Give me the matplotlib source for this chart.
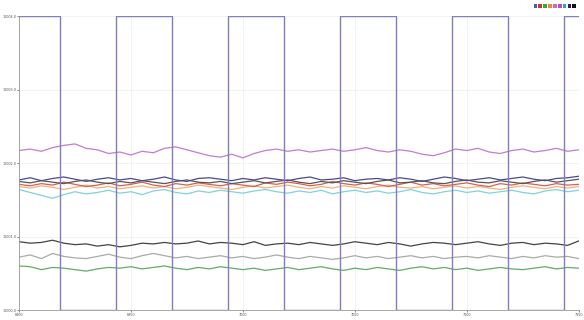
import numpy as np
import matplotlib.pyplot as plt
from matplotlib.patches import Patch

# x positions of the sampled points
x = list(range(6900, 7151, 5))

# square wave (step edges)
sq_x = [6900, 6918.5, 6943.5, 6968.5, 6993.5, 7018.5, 7043.5, 7068.5, 7093.5, 7118.5, 7143.5, 7150]
sq_y = [10004.0, 10000.0, 10004.0, 10000.0, 10004.0, 10000.0, 10004.0, 10000.0, 10004.0, 10000.0, 10004.0, 10004.0]

purple = [10002.17, 10002.19, 10002.16, 10002.21, 10002.24, 10002.26, 10002.20, 10002.18, 10002.13, 10002.15,
          10002.11, 10002.16, 10002.14, 10002.20, 10002.22, 10002.18, 10002.14, 10002.10, 10002.08, 10002.12,
          10002.07, 10002.13, 10002.17, 10002.19, 10002.16, 10002.18, 10002.15, 10002.17, 10002.19, 10002.16,
          10002.18, 10002.21, 10002.17, 10002.15, 10002.18, 10002.16, 10002.12, 10002.10, 10002.14, 10002.19,
          10002.17, 10002.20, 10002.15, 10002.13, 10002.17, 10002.19, 10002.15, 10002.17, 10002.20, 10002.16,
          10002.18]
navy = [10001.77, 10001.80, 10001.76, 10001.79, 10001.81, 10001.78, 10001.75, 10001.78, 10001.80, 10001.77,
        10001.79, 10001.76, 10001.78, 10001.81, 10001.77, 10001.75, 10001.79, 10001.80, 10001.78, 10001.76,
        10001.79, 10001.77, 10001.80, 10001.78, 10001.76, 10001.79, 10001.81, 10001.77, 10001.78, 10001.80,
        10001.76, 10001.78, 10001.79, 10001.77, 10001.80, 10001.78, 10001.75, 10001.78, 10001.81, 10001.79,
        10001.76, 10001.78, 10001.80, 10001.77, 10001.79, 10001.81, 10001.78, 10001.76, 10001.79, 10001.80,
        10001.82]
darkgray = [10001.75, 10001.73, 10001.76, 10001.74, 10001.72, 10001.75, 10001.77, 10001.74, 10001.72, 10001.75,
            10001.73, 10001.76, 10001.74, 10001.72, 10001.75, 10001.77, 10001.74, 10001.73, 10001.75, 10001.72,
            10001.74, 10001.76, 10001.73, 10001.75, 10001.77, 10001.74, 10001.72, 10001.75, 10001.73, 10001.76,
            10001.74, 10001.72, 10001.75, 10001.77, 10001.73, 10001.74, 10001.76, 10001.73, 10001.72, 10001.75,
            10001.77, 10001.74, 10001.73, 10001.76, 10001.74, 10001.72, 10001.75, 10001.77, 10001.74, 10001.76,
            10001.78]
red = [10001.71, 10001.69, 10001.72, 10001.70, 10001.74, 10001.71, 10001.68, 10001.70, 10001.73, 10001.69,
       10001.71, 10001.74, 10001.70, 10001.68, 10001.72, 10001.70, 10001.73, 10001.71, 10001.69, 10001.72,
       10001.70, 10001.68, 10001.73, 10001.71, 10001.74, 10001.72, 10001.69, 10001.71, 10001.75, 10001.72,
       10001.70, 10001.73, 10001.71, 10001.68, 10001.71, 10001.74, 10001.70, 10001.72, 10001.69, 10001.71,
       10001.73, 10001.70, 10001.68, 10001.72, 10001.70, 10001.73, 10001.71, 10001.69, 10001.72, 10001.70,
       10001.71]
orange = [10001.68, 10001.66, 10001.69, 10001.67, 10001.64, 10001.67, 10001.70, 10001.66, 10001.68, 10001.65,
          10001.67, 10001.69, 10001.66, 10001.68, 10001.65, 10001.67, 10001.70, 10001.68, 10001.66, 10001.64,
          10001.67, 10001.69, 10001.66, 10001.68, 10001.70, 10001.67, 10001.65, 10001.68, 10001.66, 10001.69,
          10001.67, 10001.65, 10001.68, 10001.70, 10001.67, 10001.66, 10001.68, 10001.65, 10001.67, 10001.69,
          10001.66, 10001.68, 10001.66, 10001.64, 10001.67, 10001.69, 10001.67, 10001.65, 10001.68, 10001.66,
          10001.68]
cyan = [10001.64, 10001.60, 10001.56, 10001.52, 10001.57, 10001.61, 10001.58, 10001.60, 10001.63, 10001.59,
        10001.61, 10001.57, 10001.62, 10001.64, 10001.60, 10001.58, 10001.62, 10001.60, 10001.63, 10001.61,
        10001.59, 10001.62, 10001.64, 10001.61, 10001.59, 10001.62, 10001.60, 10001.63, 10001.58, 10001.61,
        10001.63, 10001.60, 10001.62, 10001.59, 10001.61, 10001.64, 10001.60, 10001.58, 10001.61, 10001.63,
        10001.60, 10001.62, 10001.59, 10001.61, 10001.63, 10001.60, 10001.58, 10001.62, 10001.64, 10001.61,
        10001.63]
black = [10000.93, 10000.91, 10000.92, 10000.95, 10000.91, 10000.89, 10000.90, 10000.87, 10000.89, 10000.86,
         10000.88, 10000.91, 10000.90, 10000.92, 10000.90, 10000.91, 10000.94, 10000.90, 10000.92, 10000.91,
         10000.89, 10000.93, 10000.88, 10000.90, 10000.91, 10000.89, 10000.92, 10000.90, 10000.88, 10000.90,
         10000.93, 10000.91, 10000.89, 10000.92, 10000.90, 10000.87, 10000.90, 10000.92, 10000.91, 10000.89,
         10000.91, 10000.93, 10000.90, 10000.88, 10000.91, 10000.92, 10000.89, 10000.91, 10000.90, 10000.88,
         10000.94]
gray = [10000.72, 10000.75, 10000.70, 10000.77, 10000.73, 10000.71, 10000.70, 10000.73, 10000.76, 10000.72,
        10000.70, 10000.74, 10000.77, 10000.74, 10000.71, 10000.73, 10000.70, 10000.72, 10000.74, 10000.71,
        10000.73, 10000.70, 10000.72, 10000.75, 10000.72, 10000.70, 10000.73, 10000.71, 10000.69, 10000.71,
        10000.74, 10000.71, 10000.73, 10000.70, 10000.72, 10000.74, 10000.71, 10000.73, 10000.70, 10000.72,
        10000.73, 10000.71, 10000.74, 10000.72, 10000.70, 10000.73, 10000.71, 10000.74, 10000.72, 10000.73,
        10000.70]
green = [10000.60, 10000.59, 10000.55, 10000.58, 10000.57, 10000.55, 10000.53, 10000.56, 10000.58, 10000.57,
         10000.59, 10000.56, 10000.58, 10000.60, 10000.57, 10000.55, 10000.58, 10000.56, 10000.59, 10000.57,
         10000.55, 10000.57, 10000.54, 10000.56, 10000.58, 10000.55, 10000.57, 10000.59, 10000.56, 10000.54,
         10000.57, 10000.55, 10000.58, 10000.56, 10000.54, 10000.57, 10000.59, 10000.56, 10000.58, 10000.55,
         10000.57, 10000.54, 10000.56, 10000.58, 10000.56, 10000.55, 10000.57, 10000.59, 10000.56, 10000.58,
         10000.57]

x_ticks = [6900, 6950, 7000, 7050, 7100, 7150]
y_ticks = [10000.0, 10001.0, 10002.0, 10003.0, 10004.0]

legend_colors = ['#5555bb', '#cc3333', '#33aa33', '#ee8833', '#dd66aa', '#aa55cc', '#33aaaa', '#222266', '#111111']

fig = plt.figure(figsize=(5.84, 3.2), dpi=100)
ax = fig.add_axes([0.0325, 0.031, 0.9585, 0.919])

series = [
    (purple, '#c27bd6'),
    (cyan, '#7fd3dd'),
    (orange, '#f2b27a'),
    (red, '#d9604f'),
    (darkgray, '#555555'),
    (navy, '#4a4a8c'),
    (black, '#444444'),
    (gray, '#aaaaaa'),
    (green, '#66aa66'),
]
for vals, c in series:
    ax.plot(x, vals, color=c, linewidth=0.9)

ax.plot(sq_x, sq_y, drawstyle='steps-post', color='#7f7fbf', linewidth=1.0)

ax.set_xlim(6900, 7150)
ax.set_ylim(10000.0, 10004.0)
ax.set_xticks(x_ticks)
ax.set_yticks(y_ticks)
ax.set_xticklabels([str(v) for v in x_ticks])
ax.set_yticklabels([f'{v:.1f}' for v in y_ticks])
ax.tick_params(labelsize=2.4, length=1.5, width=0.5, colors='#555555', pad=0.5)
ax.grid(True, color='#eeeeee', linewidth=0.5)
ax.set_axisbelow(True)
for s in ['top', 'right']:
    ax.spines[s].set_visible(False)
for s in ['left', 'bottom']:
    ax.spines[s].set_color('#999999')
    ax.spines[s].set_linewidth(0.6)

handles = [Patch(facecolor=c, edgecolor='none') for c in legend_colors]
fig.legend(handles, [''] * len(handles), ncol=len(handles), loc='upper right',
           bbox_to_anchor=(0.995, 1.005), frameon=False, handlelength=0.55, handleheight=0.55,
           handletextpad=0, columnspacing=0.15, fontsize=5, borderpad=0.2)

plt.savefig('out.png', dpi=100)
